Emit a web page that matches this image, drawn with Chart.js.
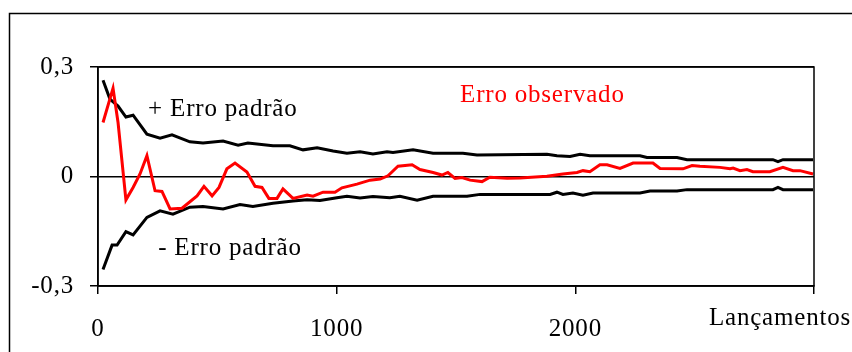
<!DOCTYPE html>
<html>
<head>
<meta charset="utf-8">
<script src="https://cdn.jsdelivr.net/npm/chart.js@4/dist/chart.umd.min.js"></script>
<style>
  html, body { margin: 0; padding: 0; background: #fff; }
  canvas { display: block; }
</style>
</head>
<body>
<canvas id="c" width="852" height="352"></canvas>
<script>
// Number of throws (x) and error values (y)
const xUpper = [21, 50, 84, 117, 147, 205, 260, 310, 385, 440, 524, 587, 628, 733, 804, 859, 918, 985, 1043, 1098, 1152, 1211, 1236, 1320, 1404, 1529, 1588, 1881, 1923, 1978, 2020, 2061, 2271, 2300, 2426, 2468, 2828, 2849, 2870, 2996];
const upperErr = [0.264, 0.212, 0.193, 0.163, 0.168, 0.116, 0.105, 0.114, 0.095, 0.092, 0.097, 0.086, 0.092, 0.084, 0.084, 0.073, 0.079, 0.070, 0.064, 0.068, 0.062, 0.068, 0.066, 0.073, 0.064, 0.064, 0.059, 0.061, 0.057, 0.055, 0.061, 0.057, 0.057, 0.052, 0.052, 0.046, 0.046, 0.041, 0.046, 0.046];

const xLower = [21, 59, 80, 117, 147, 205, 260, 314, 385, 440, 524, 595, 649, 733, 817, 876, 930, 1001, 1043, 1098, 1152, 1223, 1265, 1337, 1404, 1546, 1601, 1894, 1923, 1948, 1990, 2032, 2074, 2271, 2313, 2426, 2468, 2828, 2849, 2870, 2996];
const lowerErr = [-0.255, -0.188, -0.188, -0.151, -0.160, -0.112, -0.094, -0.103, -0.084, -0.082, -0.089, -0.077, -0.082, -0.073, -0.067, -0.064, -0.066, -0.058, -0.054, -0.059, -0.055, -0.058, -0.054, -0.065, -0.054, -0.054, -0.049, -0.049, -0.043, -0.049, -0.045, -0.051, -0.045, -0.045, -0.040, -0.040, -0.036, -0.036, -0.030, -0.036, -0.036];

const xObserved = [21, 63, 84, 117, 147, 176, 205, 239, 268, 302, 352, 415, 444, 478, 507, 540, 574, 624, 658, 687, 716, 750, 775, 817, 876, 901, 943, 993, 1022, 1085, 1140, 1182, 1215, 1257, 1316, 1349, 1404, 1441, 1466, 1496, 1525, 1559, 1609, 1642, 1714, 1768, 1881, 1948, 2007, 2032, 2061, 2103, 2133, 2187, 2242, 2325, 2355, 2451, 2489, 2522, 2606, 2648, 2661, 2690, 2719, 2744, 2815, 2870, 2912, 2941, 2996];
const observedErr = [0.148, 0.242, 0.148, -0.064, -0.030, 0.007, 0.057, -0.039, -0.041, -0.089, -0.087, -0.053, -0.027, -0.053, -0.030, 0.021, 0.037, 0.012, -0.027, -0.030, -0.060, -0.060, -0.034, -0.060, -0.051, -0.054, -0.043, -0.043, -0.031, -0.021, -0.010, -0.007, 0.002, 0.028, 0.032, 0.019, 0.011, 0.004, 0.011, -0.005, -0.003, -0.010, -0.014, -0.002, -0.005, -0.004, 0.001, 0.007, 0.011, 0.016, 0.013, 0.032, 0.032, 0.022, 0.037, 0.037, 0.022, 0.021, 0.030, 0.028, 0.025, 0.021, 0.023, 0.016, 0.019, 0.013, 0.013, 0.025, 0.016, 0.016, 0.007];

const xTicks = [0, 1000, 2000, 3000];
const yTicks = [-0.3, 0, 0.3];
const xTitle = 'Lançamentos';
const labelUpper = '+ Erro padrão';
const labelLower = '- Erro padrão';
const labelObserved = 'Erro observado';

const pts = (xs, ys) => xs.map((x, i) => ({ x: x, y: ys[i] }));
const FONT = '"Liberation Serif", "Times New Roman", serif';

const framePlugin = {
  id: 'frame',
  beforeDraw(chart) {
    const ctx = chart.ctx;
    ctx.save();
    ctx.fillStyle = '#fff';
    ctx.fillRect(0, 0, chart.width, chart.height);
    ctx.strokeStyle = '#000';
    ctx.lineWidth = 1.5;
    ctx.strokeRect(9.5, 13.5, 1000, 500);
    ctx.restore();
    ctx.letterSpacing = '0.8px';
  },
  afterDatasetsDraw(chart) {
    const ctx = chart.ctx;
    const a = chart.chartArea;
    const xs = chart.scales.x, ys = chart.scales.y;
    ctx.save();
    ctx.strokeStyle = '#000';
    ctx.lineWidth = 1.5;
    ctx.strokeRect(a.left, a.top, a.right - a.left, a.bottom - a.top);
    ctx.letterSpacing = '0.8px';
    ctx.font = '25px ' + FONT;
    ctx.textBaseline = 'middle';
    ctx.textAlign = 'left';
    ctx.fillStyle = '#000';
    ctx.fillText(labelUpper, xs.getPixelForValue(210), ys.getPixelForValue(0.185));
    ctx.fillText(labelLower, xs.getPixelForValue(252), ys.getPixelForValue(-0.196));
    ctx.fillStyle = '#ff0000';
    ctx.fillText(labelObserved, xs.getPixelForValue(1517), ys.getPixelForValue(0.222));
    ctx.fillStyle = '#000';
    ctx.textAlign = 'right';
    ctx.fillText(xTitle, chart.width - 1, xs.bottom - 34);
    ctx.restore();
  }
};

new Chart(document.getElementById('c'), {
  type: 'line',
  data: {
    datasets: [
      { label: labelObserved, data: pts(xObserved, observedErr), borderColor: '#ff0000', borderWidth: 3 },
      { label: labelUpper, data: pts(xUpper, upperErr), borderColor: '#000', borderWidth: 3 },
      { label: labelLower, data: pts(xLower, lowerErr), borderColor: '#000', borderWidth: 3 }
    ]
  },
  options: {
    responsive: false,
    animation: false,
    devicePixelRatio: 1,
    elements: { point: { radius: 0 }, line: { tension: 0 } },
    layout: { padding: { left: 0, right: 38, top: 67, bottom: 0 } },
    plugins: { legend: { display: false }, tooltip: { enabled: false } },
    scales: {
      x: {
        type: 'linear',
        min: xTicks[0], max: xTicks[xTicks.length - 1],
        afterBuildTicks(scale) { scale.ticks = xTicks.map(v => ({ value: v })); },
        afterFit(scale) { scale.height = 66; },
        grid: { drawOnChartArea: false, color: '#000', lineWidth: 1.5, tickLength: 8 },
        border: { display: true, color: '#000', width: 1.5 },
        ticks: {
          color: '#000', padding: 20, maxRotation: 0,
          font: { family: FONT, size: 25 },
          callback: v => (v === xTicks[xTicks.length - 1] ? '' : String(v))
        }
      },
      y: {
        type: 'linear',
        min: yTicks[0], max: yTicks[yTicks.length - 1],
        afterBuildTicks(scale) { scale.ticks = yTicks.map(v => ({ value: v })); },
        afterFit(scale) { scale.width = 98; },
        grid: { color: '#000', lineWidth: 1.5, tickLength: 8 },
        border: { display: true, color: '#000', width: 1.5 },
        ticks: {
          color: '#000', padding: 16,
          font: { family: FONT, size: 25 },
          callback: v => (Math.abs(v) < 1e-9 ? '0' : Number(v).toFixed(1).replace('.', ','))
        }
      }
    }
  },
  plugins: [framePlugin]
});
</script>
</body>
</html>
